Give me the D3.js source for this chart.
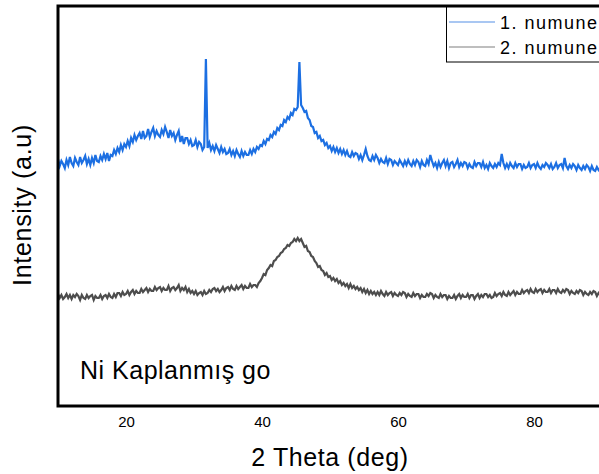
<!DOCTYPE html>
<html>
<head>
<meta charset="utf-8">
<script src="https://cdn.jsdelivr.net/npm/d3@7"></script>
<style>
    html, body { margin: 0; padding: 0; background: #fff; overflow: hidden; }
    svg { display: block; font-family: "Liberation Sans", Arial, sans-serif; }
</style>
</head>
<body>
<div id="chart"></div>
<script>
// 2-theta grid: 10 .. 90 deg, 0.25 deg step
const thetaStart = 10;
const thetaStep = 0.25;

// 1. numune (rows = one degree each, 4 samples per row)
const sample1 = [
    247, 240, 245, 242,  238, 246, 241, 249,  243, 240, 248, 244,  241, 249, 243, 246,
    250, 242, 247, 241,  248, 243, 251, 245,  244, 250, 246, 252,  247, 253, 245, 251,
    250, 256, 252, 258,  254, 261, 256, 262,  259, 265, 260, 268,  264, 271, 266, 270,
    273, 267, 275, 268,  270, 277, 269, 274,  278, 270, 275, 271,  269, 276, 272, 279,
    274, 268, 276, 270,  273, 266, 271, 275,  264, 270, 262, 268,  268, 262, 266, 260,
    261, 266, 259, 264,  262, 256, 259, 347,  258, 263, 256, 260,  255, 261, 257, 253,
    259, 254, 257, 252,  253, 257, 251, 255,  250, 256, 252, 249,  255, 250, 254, 251,
    251, 256, 252, 257,  254, 259, 257, 261,  260, 265, 262, 267,  266, 271, 269, 274,
    272, 278, 276, 281,  280, 286, 284, 289,  287, 293, 291, 297,  296, 299, 344, 301,
    298, 294, 295, 288,  286, 280, 279, 273,  274, 268, 270, 265,  266, 261, 263, 258,
    260, 255, 259, 254,  258, 253, 257, 252,  256, 251, 255, 250,  249, 254, 250, 253,
    252, 247, 251, 246,  251, 257, 250, 246,  245, 250, 246, 251,  248, 243, 247, 244,
    243, 248, 242, 247,  246, 241, 245, 243,  241, 246, 243, 240,  245, 241, 246, 242,
    240, 245, 241, 246,  244, 239, 245, 241,  240, 246, 242, 251,  245, 240, 243, 238,
    244, 239, 243, 246,  240, 245, 238, 243,  244, 239, 242, 246,  239, 243, 240, 244,
    243, 238, 242, 239,  238, 244, 240, 243,  243, 239, 244, 238,  241, 237, 243, 240,
    238, 242, 239, 243,  241, 252, 243, 238,  242, 238, 243, 240,  238, 243, 239, 242,
    242, 237, 241, 238,  239, 243, 238, 241,  242, 238, 243, 239,  237, 241, 239, 243,
    241, 238, 242, 237,  239, 243, 238, 241,  242, 238, 248, 240,  237, 241, 238, 242,
    240, 236, 241, 238,  236, 240, 237, 241,  239, 235, 240, 236,  235, 239, 236, 238,
    238
];

// 2. numune
const sample2 = [
    112, 108, 111, 107,  109, 112, 108, 111,  107, 111, 109, 112,  110, 106, 111, 108,
    107, 111, 108, 110,  111, 106, 110, 108,  108, 111, 107, 110,  111, 108, 112, 109,
    108, 112, 109, 113,  113, 110, 114, 111,  112, 115, 111, 114,  116, 112, 115, 113,
    113, 117, 114, 116,  118, 114, 117, 115,  115, 119, 116, 118,  119, 115, 118, 116,
    116, 120, 115, 118,  119, 116, 118, 121,  115, 118, 116, 119,  114, 117, 113, 115,
    112, 115, 111, 113,  114, 111, 115, 112,  113, 116, 114, 117,  118, 115, 117, 114,
    116, 119, 115, 118,  119, 116, 120, 117,  116, 120, 117, 119,  121, 117, 120, 118,
    118, 122, 119, 121,  121, 119, 123, 125,  128, 132, 131, 136,  138, 141, 140, 145,
    146, 149, 150, 153,  154, 157, 158, 161,  160, 163, 164, 167,  165, 168, 165, 167,
    163, 159, 160, 155,  154, 150, 149, 145,  143, 139, 140, 136,  135, 131, 133, 129,
    130, 126, 128, 125,  127, 123, 125, 121,  123, 120, 122, 118,  122, 118, 120, 117,
    119, 116, 118, 114,  117, 113, 116, 112,  115, 112, 114, 111,  114, 111, 115, 112,
    110, 114, 111, 113,  114, 110, 113, 111,  110, 113, 111, 114,  113, 109, 112, 110,
    109, 113, 110, 112,  112, 108, 111, 109,  109, 112, 110, 113,  112, 108, 111, 109,
    108, 112, 109, 111,  111, 107, 110, 108,  108, 111, 107, 110,  112, 108, 111, 109,
    109, 112, 108, 111,  111, 107, 110, 112,  108, 111, 109, 112,  112, 109, 111, 108,
    109, 113, 110, 112,  113, 110, 114, 111,  110, 114, 111, 113,  115, 111, 114, 112,
    112, 116, 113, 115,  116, 113, 117, 114,  113, 117, 114, 116,  117, 113, 116, 114,
    114, 117, 113, 116,  116, 113, 117, 114,  113, 116, 114, 117,  116, 112, 115, 113,
    112, 115, 113, 116,  115, 111, 114, 112,  111, 114, 112, 115,  114, 110, 113, 111,
    113
];

const seriesNames = ['1. numune', '2. numune'];
const seriesColors = ['#1c6fe2', '#4d4d4d'];
const legendColors = ['#8db5ee', '#a8a8a8'];
const xTicks = [20, 40, 60, 80];

const width = 599;
const height = 474;
const margin = { top: 6, right: -3, bottom: 68, left: 58 };
const innerW = width - margin.left - margin.right;
const innerH = height - margin.top - margin.bottom;

const svg = d3.select('#chart').append('svg')
    .attr('width', width)
    .attr('height', height);

const x = d3.scaleLinear().domain([10, 90]).range([0, innerW]);
const y = d3.scaleLinear().domain([0, 400]).range([innerH, 0]);

const g = svg.append('g')
    .attr('transform', `translate(${margin.left},${margin.top})`);

const toPoints = arr => arr.map((v, i) => ({ t: thetaStart + i * thetaStep, v: v }));
const line = d3.line()
    .x(d => x(d.t))
    .y(d => y(d.v));

[sample2, sample1].forEach((arr, k) => {
    g.append('path')
        .datum(toPoints(arr))
        .attr('fill', 'none')
        .attr('stroke', seriesColors[1 - k])
        .attr('stroke-width', 2.2)
        .attr('stroke-linejoin', 'miter')
        .attr('d', line);
});

// x axis labels, no tick marks
const xAxis = g.append('g')
    .attr('transform', `translate(0,${innerH})`)
    .call(d3.axisBottom(x).tickValues(xTicks).tickSize(0).tickPadding(10));
xAxis.select('.domain').remove();
xAxis.selectAll('text')
    .attr('font-size', 15)
    .attr('font-family', '"Liberation Sans", Arial, sans-serif')
    .attr('fill', '#000');

// frame
g.append('rect')
    .attr('x', 0)
    .attr('y', 0)
    .attr('width', innerW)
    .attr('height', innerH)
    .attr('fill', 'none')
    .attr('stroke', '#000')
    .attr('stroke-width', 3);

// axis titles
svg.append('text')
    .attr('x', 330)
    .attr('y', 466)
    .attr('text-anchor', 'middle')
    .attr('font-size', 25)
    .attr('letter-spacing', 0.6)
    .text('2 Theta (deg)');

svg.append('text')
    .attr('transform', 'translate(31,205) rotate(-90)')
    .attr('text-anchor', 'middle')
    .attr('font-size', 25)
    .attr('letter-spacing', 0.7)
    .text('Intensity (a.u)');

svg.append('text')
    .attr('x', 80)
    .attr('y', 379)
    .attr('font-size', 25)
    .attr('letter-spacing', 0.5)
    .text('Ni Kaplanmış go');

// legend
const legend = svg.append('g').attr('transform', 'translate(446,7)');
legend.append('rect')
    .attr('x', 0.5)
    .attr('y', 0)
    .attr('width', 200)
    .attr('height', 55)
    .attr('fill', '#fff')
    .attr('stroke', '#000')
    .attr('stroke-width', 1);

seriesNames.forEach((name, i) => {
    const row = legend.append('g').attr('transform', `translate(0,${15 + i * 25})`);
    row.append('line')
        .attr('x1', 3)
        .attr('x2', 49)
        .attr('y1', 0)
        .attr('y2', 0)
        .attr('stroke', legendColors[i])
        .attr('stroke-width', 1.5);
    row.append('text')
        .attr('x', 54)
        .attr('y', 6.5)
        .attr('font-size', 18)
        .attr('letter-spacing', 1.5)
        .text(name);
});
</script>
</body>
</html>
